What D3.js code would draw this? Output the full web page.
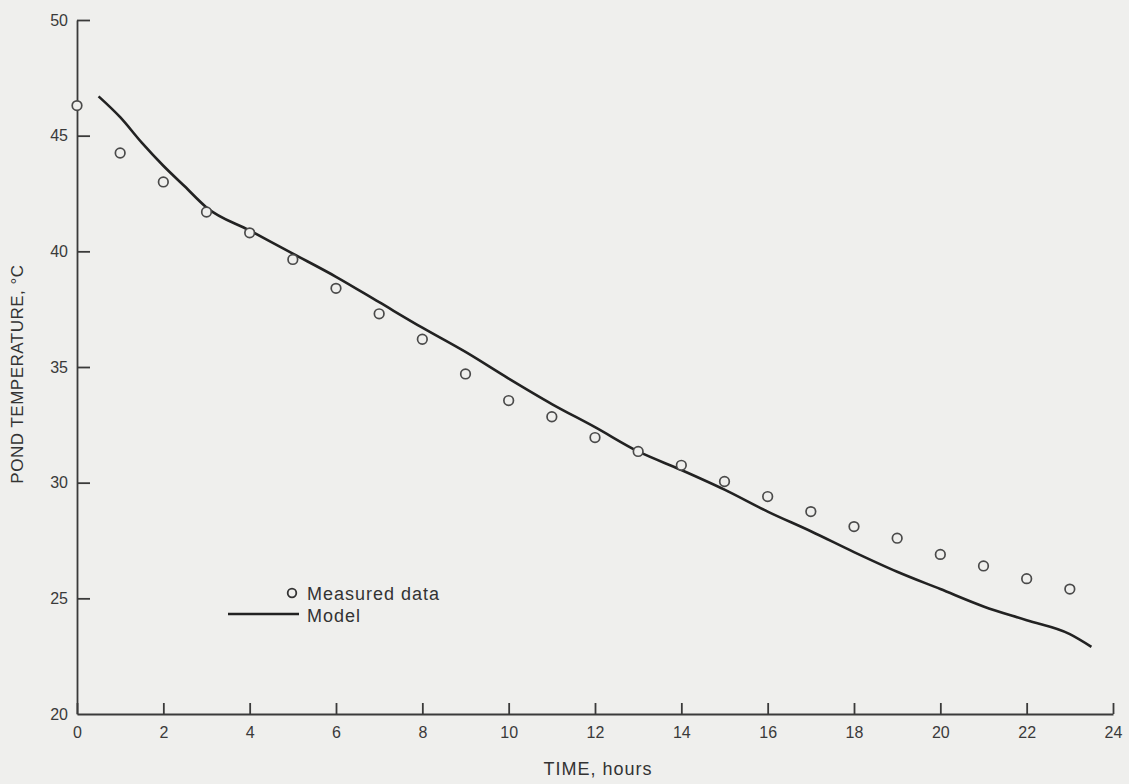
<!DOCTYPE html>
<html>
<head>
<meta charset="utf-8">
<script src="https://cdn.jsdelivr.net/npm/d3@7"></script>
<style>
  body { margin: 0; background: #efefed; }
  svg { display: block; font-family: "Liberation Sans", Arial, sans-serif; }
  .axis path, .axis line { stroke: #3a3a3a; stroke-width: 1.8; }
  .axis text { fill: #3a3a3a; font-size: 16px; }
</style>
</head>
<body>
<svg width="1129" height="784"></svg>
<script>
const width = 1129, height = 784;
const svg = d3.select("svg");

// Measured data (hourly)
const measuredTime = [0, 1, 2, 3, 4, 5, 6, 7, 8, 9, 10, 11, 12, 13, 14, 15, 16, 17, 18, 19, 20, 21, 22, 23];
const measuredTemp = [46.3, 44.25, 43.0, 41.7, 40.8, 39.65, 38.4, 37.3, 36.2, 34.7, 33.55, 32.85, 31.95, 31.35, 30.75, 30.05, 29.4, 28.75, 28.1, 27.6, 26.9, 26.4, 25.85, 25.4];

// Model curve
const modelTime = [0.5, 1, 1.5, 2, 2.5, 3, 4, 5, 6, 7, 8, 9, 10, 11, 12, 13, 14, 15, 16, 17, 18, 19, 20, 21, 22, 23, 23.5];
const modelTemp = [46.7, 45.8, 44.7, 43.7, 42.8, 41.9, 40.9, 39.9, 38.9, 37.8, 36.7, 35.65, 34.5, 33.4, 32.4, 31.35, 30.55, 29.7, 28.75, 27.9, 27.0, 26.15, 25.4, 24.65, 24.05, 23.45, 22.9];

const xTicks = [0, 2, 4, 6, 8, 10, 12, 14, 16, 18, 20, 22, 24];
const yTicks = [20, 25, 30, 35, 40, 45, 50];

const x = d3.scaleLinear().domain([0, 24]).range([77, 1113]);
const y = d3.scaleLinear().domain([20, 50]).range([714, 20]);

// x axis, ticks pointing inward
svg.append("g")
    .attr("class", "axis")
    .attr("transform", `translate(0,${y(20)})`)
    .call(d3.axisBottom(x).tickValues(xTicks).tickSizeInner(-11).tickSizeOuter(0).tickPadding(13));

// y axis
const yAxis = svg.append("g")
    .attr("class", "axis")
    .attr("transform", `translate(${x(0)},0)`)
    .call(d3.axisLeft(y).tickValues(yTicks).tickSizeInner(-13).tickSizeOuter(0).tickPadding(9));
yAxis.selectAll(".tick").filter(d => d === 20).select("line").remove();

// axis titles
svg.append("text")
    .attr("x", 598)
    .attr("y", 775)
    .attr("text-anchor", "middle")
    .style("font-size", "18px")
    .style("letter-spacing", "1px")
    .style("fill", "#333")
    .text("TIME, hours");

svg.append("text")
    .attr("transform", "rotate(-90)")
    .attr("x", -374)
    .attr("y", 23)
    .attr("text-anchor", "middle")
    .style("font-size", "17px")
    .style("letter-spacing", "0.5px")
    .style("fill", "#333")
    .text("POND TEMPERATURE, °C");

// model line
const modelData = modelTime.map((t, i) => ({ t, v: modelTemp[i] }));
const line = d3.line()
    .x(d => x(d.t))
    .y(d => y(d.v))
    .curve(d3.curveMonotoneX);

svg.append("path")
    .datum(modelData)
    .attr("d", line)
    .attr("fill", "none")
    .attr("stroke", "#222")
    .attr("stroke-width", 2.6);

// measured points
const measured = measuredTime.map((t, i) => ({ t, v: measuredTemp[i] }));
svg.selectAll(".pt")
    .data(measured)
    .enter().append("circle")
    .attr("class", "pt")
    .attr("cx", d => x(d.t))
    .attr("cy", d => y(d.v))
    .attr("r", 4.8)
    .attr("fill", "#efefed")
    .attr("stroke", "#4a4a4a")
    .attr("stroke-width", 1.7);

// legend
const legend = svg.append("g");
legend.append("circle")
    .attr("cx", 292).attr("cy", 593).attr("r", 4.3)
    .attr("fill", "none").attr("stroke", "#333").attr("stroke-width", 1.8);
legend.append("text")
    .attr("x", 307).attr("y", 600)
    .style("font-size", "18px").style("letter-spacing", "1px").style("fill", "#333")
    .text("Measured data");
legend.append("line")
    .attr("x1", 228).attr("x2", 299).attr("y1", 614).attr("y2", 614)
    .attr("stroke", "#222").attr("stroke-width", 2.6);
legend.append("text")
    .attr("x", 307).attr("y", 622)
    .style("font-size", "18px").style("letter-spacing", "1px").style("fill", "#333")
    .text("Model");
</script>
</body>
</html>
